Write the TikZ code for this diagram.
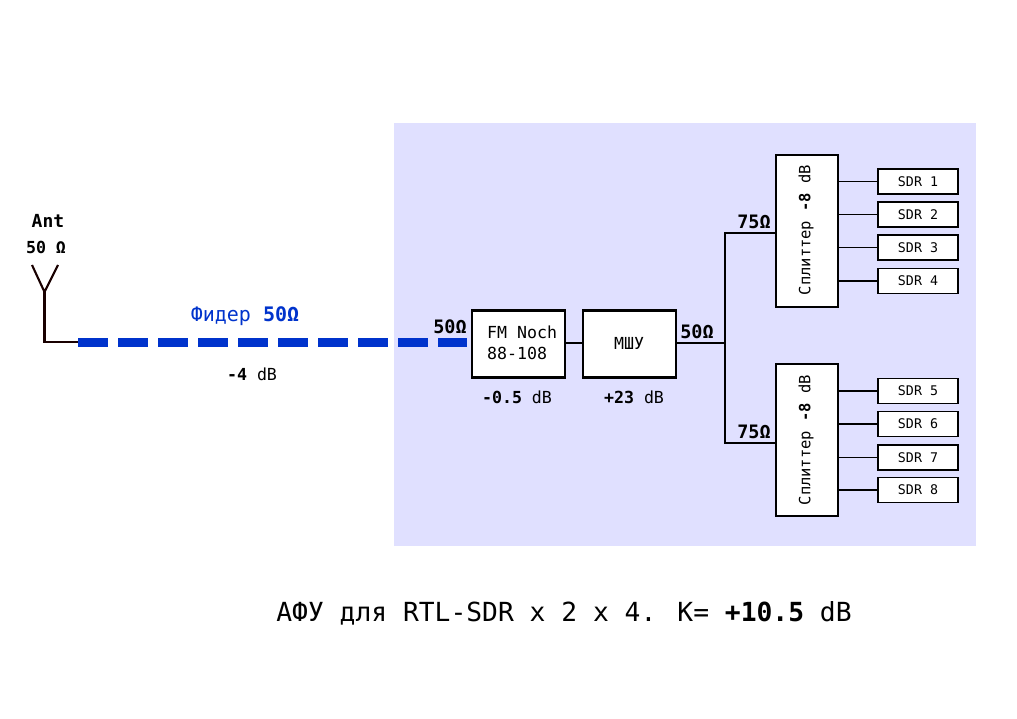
\documentclass[tikz,border=0pt]{standalone}
\usepackage{fontspec}
\setmainfont{DejaVu Sans Mono}
\newfontfamily\dvsans{DejaVu Sans}
\definecolor{bgblue}{HTML}{E0E0FF}
\definecolor{feedblue}{HTML}{0033CC}
\newcommand{\fs}[1]{\fontsize{#1}{#1}\selectfont}
\begin{document}
\begin{tikzpicture}[x=1pt,y=-1pt,
  blk/.style={draw=black,line width=2.6pt,fill=white,inner sep=0pt},
  sdrbox/.style={draw=black,line width=1.5pt,fill=white,minimum width=80pt,minimum height=25pt,inner sep=0pt,font=\fs{13.3}},
  wire/.style={draw=black,line width=1.8pt},
  thin/.style={draw=black,line width=1.4pt},
  lbl/.style={inner sep=0pt,font=\fs{16.6}},
  ohm/.style={inner sep=0pt,font=\fs{18.5}\bfseries}
]
\useasboundingbox (0,0) rectangle (1017,719);
\fill[bgblue] (394,123) rectangle (976,546);

% antenna
\coordinate (a1) at (32,265);
\coordinate (a2) at (58,265);
\coordinate (af) at (44.5,292);
\coordinate (ab) at (44.5,342);
\coordinate (fs) at (78,342);
\coordinate (fe) at (467,342);
\draw[line width=2.1pt,black!90!red,line join=miter] (a1) -- (af) -- (a2);
\draw[line width=2.1pt,black!90!red] (af) -- (ab) -- (fs);
\node[inner sep=0pt,font=\fs{18}\bfseries] (ant) at (48,221) {Ant};
\node[inner sep=0pt,font=\fs{16.6}\bfseries] (antz) at (46,247) {50 Ω};

% feeder
\draw[feedblue,line width=9pt,dash pattern=on 30pt off 10pt] (fs) -- (fe);
\node[inner sep=0pt,font=\fs{20},text=feedblue] (feedl) at (245,316) {Фидер \textbf{50Ω}};
\node[lbl] (feedg) at (252,374) {\textbf{-4} dB};

% blocks
\node[blk,minimum width=93pt,minimum height=67pt] (fm) at (518.5,344) {};
\node[lbl,anchor=west,align=left,font=\fs{16.6}] (fmt) at (487,343) {FM Noch\\[4pt]88-108};
\node[blk,minimum width=93pt,minimum height=67pt] (lna) at (629.5,344) {};
\node[lbl] (lnat) at (629,343) {МШУ};
\node[ohm] (z1) at (450,327) {50Ω};
\node[ohm] (z2) at (697,332) {50Ω};
\node[lbl] (fmg) at (517,397) {\textbf{-0.5} dB};
\node[lbl] (lnag) at (634,397) {\textbf{+23} dB};
\draw[line width=2.8pt] (fm.east |- 0,343) -- (lna.west |- 0,343);

% splitters
\node[blk,line width=2.2pt,minimum width=62pt,minimum height=152pt] (sp1) at (807,231) {};
\node[blk,line width=2.2pt,minimum width=62pt,minimum height=152pt] (sp2) at (807,440) {};
\node[lbl,rotate=90,font=\fs{15.5}] (sp1t) at (806,230) {Сплиттер \textbf{-8} dB};
\node[lbl,rotate=90,font=\fs{15.5}] (sp2t) at (806,440) {Сплиттер \textbf{-8} dB};
\node[ohm] (z3) at (754,222) {75Ω};
\node[ohm] (z4) at (754,432) {75Ω};

\coordinate (j) at (725,343);
\coordinate (jt) at (725,233);
\coordinate (jb) at (725,443);
\draw[wire] (lna.east |- j) -- (j);
\draw[wire] (jt -| sp1.west) -- (jt) -- (jb) -- (jb -| sp2.west);

% SDR boxes
\node[sdrbox] (s1) at (918,181.5) {SDR 1};
\node[sdrbox] (s2) at (918,214.5) {SDR 2};
\node[sdrbox] (s3) at (918,247.5) {SDR 3};
\node[sdrbox] (s4) at (918,281) {SDR 4};
\node[sdrbox] (s5) at (918,391) {SDR 5};
\node[sdrbox] (s6) at (918,424) {SDR 6};
\node[sdrbox] (s7) at (918,457.5) {SDR 7};
\node[sdrbox] (s8) at (918,490) {SDR 8};
\foreach \s in {s1,s2,s3,s4}{\draw[thin] (sp1.east |- \s.west) -- (\s.west);}
\foreach \s in {s5,s6,s7,s8}{\draw[thin] (sp2.east |- \s.west) -- (\s.west);}

% title
\node[inner sep=0pt,font=\fs{26.3}] (title) at (564,613) {АФУ для RTL-SDR x 2 x 4. K= \textbf{+10.5} dB};
\end{tikzpicture}
\end{document}
